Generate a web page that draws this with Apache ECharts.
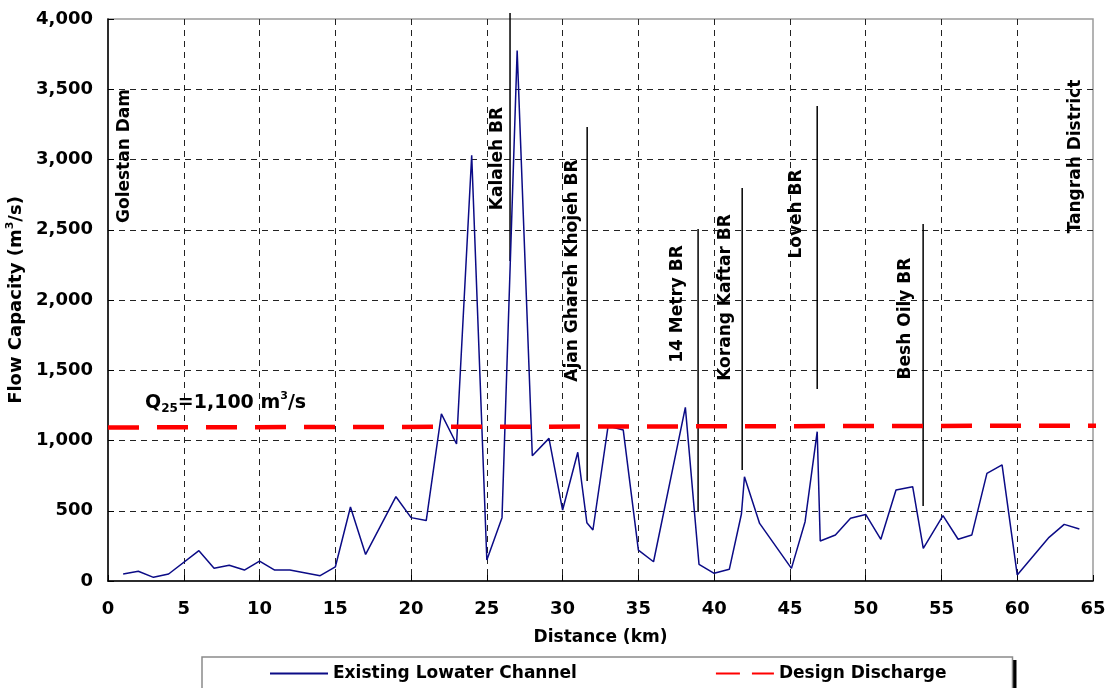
<!DOCTYPE html>
<html><head><meta charset="utf-8">
<script src="https://cdn.jsdelivr.net/npm/echarts@6/dist/echarts.min.js"></script>
<style>html,body{margin:0;padding:0;background:#fff}#c{width:1106px;height:688px}</style>
</head><body><div id="c"></div>
<script>
// Existing low-water channel capacity (km, m3/s)
const distanceKm = [1,2,3,4,6,7,8,9,10,11,12,14,15,16,17,19,20,21,22,23,24,25,26,27,28,29.1,30,31,31.6,32,33,34,35,36,38.1,39,40,41,41.8,42,43,45.1,46,46.8,47,48,49,50,51,52,53.1,53.8,55.1,56.1,57,58,59,60,62.1,63.1,64.1];
const flowCapacity = [50,69,26,50,216,90,112,78,142,78,78,38,100,527,189,600,451,430,1190,975,3030,149,451,3775,892,1015,505,916,415,363,1103,1075,220,137,1236,119,55,83,477,742,410,90,422,1063,285,327,446,474,297,648,671,233,465,297,327,766,826,43,311,403,370];
// Design discharge line (Q25 = 1,100 m3/s)
const designKm = [0, 66];
const designQ = [1093, 1106];
// Bridge marker lines
const bridgeKm = [26.53, 31.62, 38.94, 41.85, 46.8, 53.79];
const bridgeTop = [4043, 3231, 2505, 2797, 3381, 2541];
const bridgeBottom = [2278, 712, 491, 790, 1367, 534];
// Annotation labels
const annotText = ['Golestan Dam','Kalaleh BR','Ajan Ghareh Khojeh BR','14 Metry BR','Korang Kaftar BR','Loveh BR','Besh Oily BR','Tangrah District'];
const annotKm = [1.12, 25.74, 30.63, 37.56, 40.73, 45.41, 52.61, 63.83];
const annotVal = [3025, 3007, 2210, 1972, 2018, 2612, 1868, 3021];
const qLabelKm = 2.44, qLabelVal = 1267;
// Axis ticks
const xTicks = {min:0, max:65, interval:5};
const yTicks = {min:0, max:4000, interval:500};
const legendNames = ['Existing Lowater Channel', 'Design Discharge'];

const FF = 'DejaVu Sans';
const chart = echarts.init(document.getElementById('c'), null, {renderer:'canvas'});
const series = [];
series.push({name:legendNames[0], type:'line', data:distanceKm.map((x,i)=>[x,flowCapacity[i]]),
  symbol:'none', showSymbol:false, lineStyle:{color:'#0b0b86', width:1.5}, itemStyle:{color:'#0b0b86'}, z:3});
series.push({name:legendNames[1], type:'line', data:designKm.map((x,i)=>[x,designQ[i]]),
  symbol:'none', showSymbol:false, clip:false, lineStyle:{color:'#ff0000', width:4.5, type:[31,18]}, itemStyle:{color:'#ff0000'}, z:4});
bridgeKm.forEach((x,i)=>series.push({type:'line', data:[[x,bridgeTop[i]],[x,bridgeBottom[i]]], symbol:'none', showSymbol:false,
  clip:false, silent:true, lineStyle:{color:'#000', width:1.5}, z:2}));
series.push({type:'scatter', symbolSize:0, silent:true, clip:false, itemStyle:{opacity:1, color:'transparent'},
  data:annotText.map((t,i)=>({value:[annotKm[i],annotVal[i]], label:{formatter:t}})),
  label:{show:true, opacity:1, position:'inside', rotate:90, align:'center', verticalAlign:'middle', fontFamily:FF, fontWeight:'bold', fontSize:17, color:'#000'}, z:5});
series.push({type:'scatter', symbolSize:0, silent:true, clip:false, itemStyle:{opacity:1, color:'transparent'},
  data:[{value:[qLabelKm,qLabelVal]}],
  label:{show:true, opacity:1, position:'inside', align:'left', verticalAlign:'middle', color:'#000',
    formatter:'{q|Q}{sub|25}{q|=1,100 m}{sup|3}{q|/s}',
    rich:{q:{fontFamily:FF, fontWeight:'bold', fontSize:19, color:'#000'},
          sub:{fontFamily:FF, fontWeight:'bold', fontSize:12, color:'#000', padding:[12,0,0,0]},
          sup:{fontFamily:FF, fontWeight:'bold', fontSize:11, color:'#000', padding:[0,0,13,0]}}}, z:5});

const axisLbl = {fontFamily:FF, fontWeight:'bold', fontSize:18, color:'#000'};
const legendBase = {orient:'horizontal', itemWidth:58, itemHeight:14, itemGap:138, padding:[8,66,30,67],
  itemStyle:{opacity:0},
  textStyle:{fontFamily:FF, fontWeight:'bold', fontSize:17, color:'#000'},
  data:[{name:legendNames[0]}, {name:legendNames[1], lineStyle:{type:[24,12]}}]};
chart.setOption({
  animation:false,
  backgroundColor:'#fff',
  grid:{left:108, top:19, width:985, height:562, show:true, containLabel:false, outerBoundsMode:'none',
    borderColor:'#9a9a9a', borderWidth:1.5, backgroundColor:'transparent'},
  xAxis:{type:'value', min:xTicks.min, max:xTicks.max, interval:xTicks.interval,
    name:'Distance (km)', nameLocation:'middle', nameGap:48, nameTextStyle:{fontFamily:FF, fontWeight:'bold', fontSize:17, color:'#000'},
    axisLine:{onZero:false, lineStyle:{color:'#000', width:1.5}},
    axisTick:{inside:true, length:6, lineStyle:{color:'#000'}},
    axisLabel:Object.assign({margin:19}, axisLbl),
    splitLine:{show:true, showMinLine:false, showMaxLine:false, lineStyle:{color:'#222', width:1, type:[6,5]}}},
  yAxis:{type:'value', min:yTicks.min, max:yTicks.max, interval:yTicks.interval,
    name:'Flow Capacity (m{sup|3}/s)', nameLocation:'middle', nameGap:76,
    nameTextStyle:{fontFamily:FF, fontWeight:'bold', fontSize:18, color:'#000',
      rich:{sup:{fontFamily:FF, fontWeight:'bold', fontSize:11, color:'#000', padding:[0,0,12,0]}}},
    axisLine:{onZero:false, lineStyle:{color:'#000', width:1.5}},
    axisTick:{inside:true, length:6, lineStyle:{color:'#000'}},
    axisLabel:Object.assign({margin:15, formatter:v=>v.toLocaleString('en-US')}, axisLbl),
    splitLine:{show:true, showMinLine:false, showMaxLine:false, lineStyle:{color:'#222', width:1, type:[6,5]}}},
  legend:[
    Object.assign({}, legendBase, {left:206, top:660, z:1, backgroundColor:'#000', borderWidth:0}),
    Object.assign({}, legendBase, {left:202, top:657, z:2, backgroundColor:'#fff', borderColor:'#8a8a8a', borderWidth:1.5})
  ],
  series:series
});
</script></body></html>
